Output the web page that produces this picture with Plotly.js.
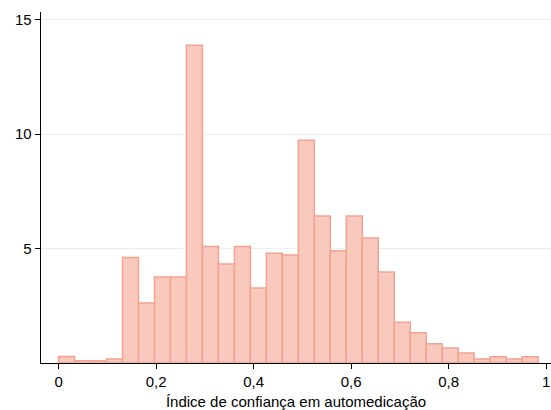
<!DOCTYPE html>
<html>
<head>
<meta charset="utf-8">
<script src="https://cdn.plot.ly/plotly-3.0.1.min.js"></script>
<style>html,body{margin:0;padding:0;background:#fff;}#chart{width:551px;height:410px;}</style>
</head>
<body>
<div id="chart"></div>
<script>
// Bin centers (index of automedication confidence) and bar heights (percent)
const binCenters = [0.0164,0.0492,0.0820,0.1147,0.1475,0.1803,0.2131,0.2459,0.2787,0.3115,
                    0.3442,0.3770,0.4098,0.4426,0.4754,0.5082,0.5410,0.5737,0.6065,0.6393,
                    0.6721,0.7049,0.7377,0.7705,0.8033,0.8360,0.8688,0.9016,0.9344,0.9672];
const binWidth = 0.0328;
const percents = [0.28,0.10,0.10,0.18,4.61,2.62,3.76,3.76,13.89,5.09,
                  4.33,5.09,3.28,4.80,4.72,9.73,6.42,4.91,6.42,5.46,
                  3.98,1.78,1.32,0.84,0.66,0.44,0.18,0.27,0.18,0.27];
const xTickVals = [0,0.2,0.4,0.6,0.8,1];
const xTickText = ['0','0,2','0,4','0,6','0,8','1'];
const yTickVals = [5,10,15];
const yTickText = ['5','10','15'];
const xTitle = 'Índice de confiança em automedicação';

const trace = {
  type: 'bar',
  x: binCenters,
  y: percents,
  width: binCenters.map(() => binWidth),
  marker: {color: '#f9c9be', line: {color: '#f3a390', width: 1.5}},
  hoverinfo: 'skip'
};

const layout = {
  width: 551, height: 410,
  margin: {l: 41, r: 0, t: 12, b: 47},
  paper_bgcolor: '#fff', plot_bgcolor: '#fff',
  font: {family: '"Liberation Sans", Arial, sans-serif', size: 15, color: '#000'},
  showlegend: false,
  bargap: 0,
  xaxis: {
    range: [-0.036, 1.01],
    tickvals: xTickVals, ticktext: xTickText,
    ticks: 'outside', ticklen: 5, tickcolor: '#000', tickwidth: 1,
    showline: true, linecolor: '#000', linewidth: 1.3,
    showgrid: false, zeroline: false,
    title: {text: xTitle, font: {size: 15}, standoff: 9},
    tickfont: {size: 15}
  },
  yaxis: {
    range: [0, 15.34],
    tickvals: yTickVals, ticktext: yTickText,
    ticks: 'outside', ticklen: 5, tickcolor: '#000', tickwidth: 1,
    showline: true, linecolor: '#000', linewidth: 1.3,
    showgrid: true, gridcolor: '#e8eff4', gridwidth: 1,
    zeroline: false,
    tickfont: {size: 15}
  }
};

Plotly.newPlot('chart', [trace], layout, {displayModeBar: false, staticPlot: true});
</script>
</body>
</html>
